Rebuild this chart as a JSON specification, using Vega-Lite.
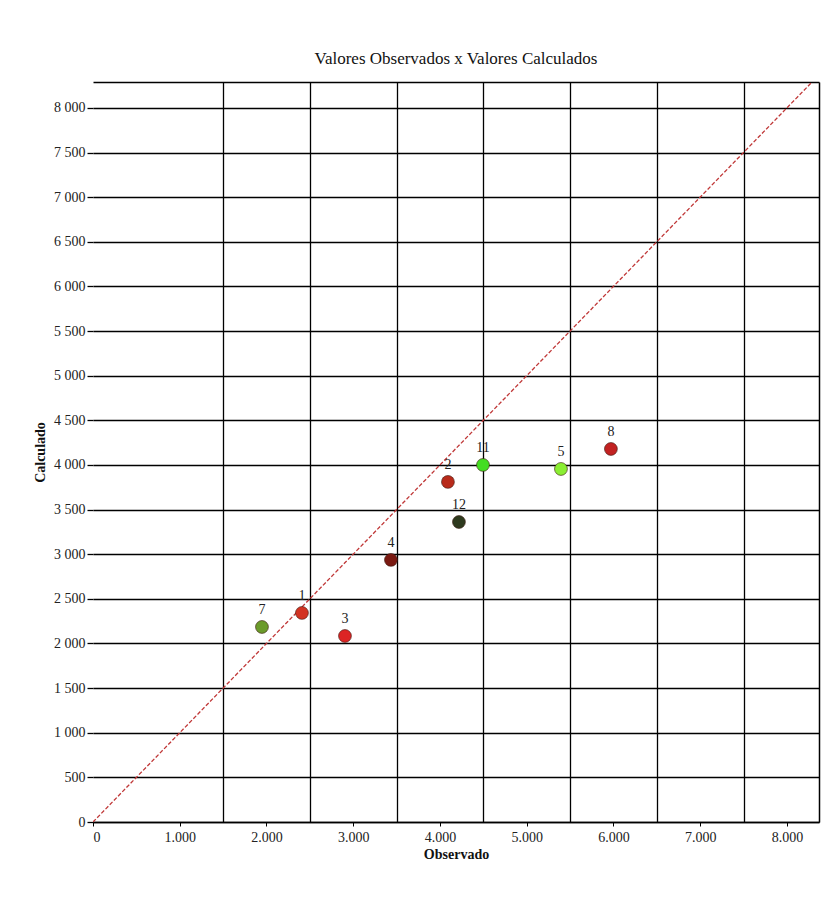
{
  "$schema": "https://vega.github.io/schema/vega-lite/v6.json",
  "width": 726,
  "height": 740,
  "autosize": {"type": "none"},
  "padding": {"left": 93, "top": 82, "right": 14, "bottom": 86},
  "background": "white",
  "config": {
    "view": {"stroke": null},
    "font": "Liberation Serif",
    "axis": {"labelFont": "Liberation Serif", "titleFont": "Liberation Serif", "labelColor": "#222", "titleColor": "#111", "labelFontSize": 14, "titleFontSize": 14, "titleFontWeight": "bold"}
  },
  "title": {"text": "Valores Observados x Valores Calculados", "font": "Liberation Serif", "fontSize": 17, "fontWeight": "normal", "color": "#111", "offset": 14},
  "datasets": {
    "pts": [
      {"id": "7", "obs": 1948, "calc": 2185, "color": "#6b9b2b"},
      {"id": "1", "obs": 2409, "calc": 2342, "color": "#d33322"},
      {"id": "3", "obs": 2905, "calc": 2084, "color": "#dc2424"},
      {"id": "4", "obs": 3435, "calc": 2936, "color": "#7a1a12"},
      {"id": "2", "obs": 4092, "calc": 3810, "color": "#b82a1a"},
      {"id": "12", "obs": 4219, "calc": 3361, "color": "#2e3a1e"},
      {"id": "11", "obs": 4496, "calc": 4000, "color": "#44dd22"},
      {"id": "5", "obs": 5395, "calc": 3955, "color": "#8aee33"},
      {"id": "8", "obs": 5971, "calc": 4179, "color": "#c22222"}
    ],
    "diag": [
      {"obs": 0, "calc": 0},
      {"obs": 8290, "calc": 8290}
    ]
  },
  "layer": [
    {
      "data": {"name": "diag"},
      "mark": {"type": "line", "color": "#c03838", "strokeWidth": 1.3, "strokeDash": [4, 2], "clip": true},
      "encoding": {
        "x": {"field": "obs", "type": "quantitative", "scale": {"domain": [0, 8370], "nice": false, "zero": true},
              "axis": {"orient": "top", "title": null, "labels": false, "ticks": false, "domain": true, "domainColor": "#000", "domainWidth": 1.5,
                       "grid": true, "gridColor": "#000", "gridWidth": 1.3, "gridOpacity": 1, "values": [1500, 2500, 3500, 4500, 5500, 6500, 7500]}},
        "y": {"field": "calc", "type": "quantitative", "scale": {"domain": [0, 8290], "nice": false, "zero": true},
              "axis": {"orient": "right", "title": null, "labels": false, "ticks": false, "domain": true, "domainColor": "#000", "domainWidth": 1.5, "grid": false}}
      }
    },
    {
      "data": {"name": "pts"},
      "mark": {"type": "circle", "size": 165, "opacity": 1, "stroke": "#3a1a10", "strokeWidth": 0.6},
      "encoding": {
        "x": {"field": "obs", "type": "quantitative",
              "axis": {"orient": "bottom", "title": "Observado", "titlePadding": 3, "values": [0, 1000, 2000, 3000, 4000, 5000, 6000, 7000, 8000],
                       "labelExpr": "replace(format(datum.value, ','), ',', '.')", "labelPadding": 4, "tickSize": 4, "tickColor": "#000",
                       "domain": true, "domainColor": "#000", "domainWidth": 1.5, "grid": false}},
        "y": {"field": "calc", "type": "quantitative",
              "axis": {"orient": "left", "title": "Calculado", "titlePadding": 6, "values": [0, 500, 1000, 1500, 2000, 2500, 3000, 3500, 4000, 4500, 5000, 5500, 6000, 6500, 7000, 7500, 8000],
                       "labelExpr": "replace(format(datum.value, ','), ',', ' ')", "labelPadding": 2, "tickSize": 6, "tickColor": "#000", "tickWidth": 1.3,
                       "domain": false, "grid": true, "gridColor": "#000", "gridWidth": 1.3, "gridOpacity": 1}},
        "color": {"field": "color", "type": "nominal", "scale": null, "legend": null}
      }
    },
    {
      "data": {"name": "pts"},
      "mark": {"type": "text", "dy": -17, "fontSize": 14, "font": "Liberation Serif", "color": "#222"},
      "encoding": {
        "x": {"field": "obs", "type": "quantitative", "axis": null},
        "y": {"field": "calc", "type": "quantitative", "axis": null},
        "text": {"field": "id", "type": "nominal"}
      }
    }
  ],
  "resolve": {"scale": {"x": "shared", "y": "shared"}, "axis": {"x": "independent", "y": "independent"}}
}
